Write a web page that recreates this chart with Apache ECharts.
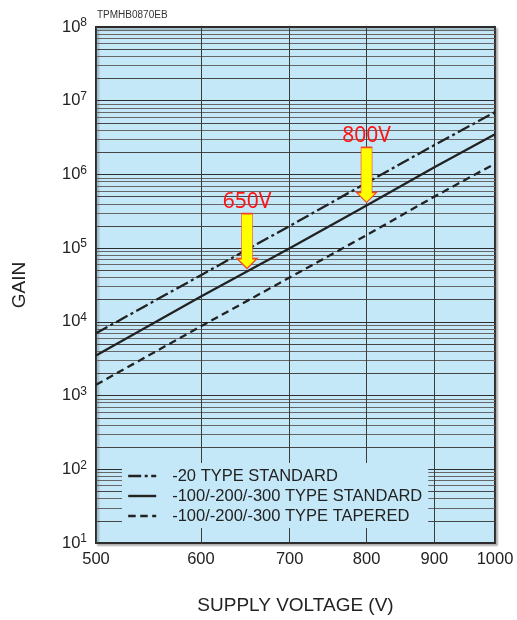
<!DOCTYPE html>
<html>
<head>
<meta charset="utf-8">
<script src="https://cdn.jsdelivr.net/npm/echarts@6/dist/echarts.min.js"></script>
<style>
  html, body { margin: 0; padding: 0; background: #ffffff; }
  #chart { width: 517px; height: 620px; }
</style>
</head>
<body>
<div id="chart"></div>
<script>
// Supply voltage (V) at which the gain curves are sampled
const voltages = [500, 600, 700, 800, 900, 1000];
// Gain curves
const gain20Standard = [7.0e3, 4.3e4, 2.0e5, 7.7e5, 2.5e6, 7.0e6];
const gainStandard   = [3.5e3, 2.2e4, 1.0e5, 3.8e5, 1.25e6, 3.5e6];
const gainTapered    = [1.4e3, 8.7e3, 4.0e4, 1.5e5, 5.0e5, 1.4e6];
const seriesNames = ['-20 TYPE STANDARD', '-100/-200/-300 TYPE STANDARD', '-100/-200/-300 TYPE TAPERED'];

// Operating-point callouts on the standard curve
const markerVoltages = [650, 800];
const markerGains = [4.8e4, 3.8e5];

// Axis ticks
const voltageTicks = [500, 600, 700, 800, 900, 1000];
const gainDecades = [1e1, 1e2, 1e3, 1e4, 1e5, 1e6, 1e7, 1e8];
const minorMultiples = [2, 3, 4, 5, 6, 7, 8, 9];

const FONT = "'Liberation Sans', Arial, sans-serif";
const INK = '#222';

// Horizontal grid: decade lines plus the 2..9 sub-divisions of every decade
const hLines = [];
gainDecades.forEach((d, i) => {
  hLines.push({ yAxis: d, lineStyle: { color: '#2e2e2e', width: 1 } });
  if (i < gainDecades.length - 1) {
    minorMultiples.forEach(m => {
      const strong = (m === 2 || m === 5);
      hLines.push({ yAxis: m * d, lineStyle: { color: strong ? '#454545' : '#666666', width: 1 } });
    });
  }
});
// Vertical grid with the voltage labels under the plot
const vLines = voltageTicks.map(v => ({
  xAxis: v,
  name: String(v),
  lineStyle: { color: '#3c3c3c', width: 1 }
}));
const gridLines = hLines.map(l => Object.assign({ label: { show: false } }, l)).concat(vLines);

const chart = echarts.init(document.getElementById('chart'), null, { renderer: 'canvas' });

chart.setOption({
  animation: false,
  color: [INK, INK, INK],
  textStyle: { fontFamily: FONT },
  title: {
    text: 'TPMHB0870EB',
    left: 97, top: 10, padding: 0,
    textStyle: { fontSize: 10, fontWeight: 'normal', color: '#333', fontFamily: FONT }
  },
  grid: {
    left: 96, right: 22, top: 27, bottom: 75,
    show: true,
    backgroundColor: '#c5e8f8',
    borderColor: '#2b2b2b',
    borderWidth: 2,
    shadowColor: 'rgba(0,0,0,0.25)',
    shadowBlur: 2,
    shadowOffsetX: 2,
    shadowOffsetY: 2
  },
  legend: {
    data: seriesNames,
    orient: 'vertical',
    left: 122, top: 463,
    padding: [3, 6, 2, 5],
    itemGap: 0,
    itemWidth: 28,
    itemHeight: 14,
    backgroundColor: '#c5e8f8',
    selectedMode: false,
    itemStyle: { opacity: 0 },
    lineStyle: { width: 2.4 },
    textStyle: { fontSize: 16.5, color: INK, lineHeight: 20, padding: [0, 0, 0, 11], fontFamily: FONT }
  },
  xAxis: {
    type: 'log', logBase: 10, min: 500, max: 1000,
    name: 'SUPPLY VOLTAGE (V)',
    nameLocation: 'middle', nameGap: 53,
    nameTextStyle: { fontSize: 19, color: INK, fontFamily: FONT },
    axisLine: { show: false }, axisTick: { show: false },
    axisLabel: { show: false }, splitLine: { show: false }
  },
  yAxis: {
    type: 'log', logBase: 10, min: 10, max: 1e8, splitNumber: 7,
    name: 'GAIN',
    nameLocation: 'middle', nameGap: 67,
    nameTextStyle: { fontSize: 19, color: INK, fontFamily: FONT },
    axisLine: { show: false }, axisTick: { show: false }, splitLine: { show: false },
    axisLabel: {
      margin: 9,
      formatter: v => '{b|10}{e|' + Math.round(Math.log10(v)) + '}',
      rich: {
        b: { fontSize: 16.5, color: INK, fontFamily: FONT },
        e: { fontSize: 12, color: INK, padding: [0, 0, 8, 0], fontFamily: FONT }
      }
    }
  },
  series: [
    {
      name: seriesNames[0], type: 'line', symbol: 'none', silent: true, z: 3,
      data: voltages.map((v, i) => [v, gain20Standard[i]]),
      itemStyle: { color: INK },
      lineStyle: { color: INK, width: 2.3, type: [13, 3.5, 3, 3.5] }
    },
    {
      name: seriesNames[1], type: 'line', symbol: 'none', silent: true, z: 3,
      data: voltages.map((v, i) => [v, gainStandard[i]]),
      itemStyle: { color: INK },
      lineStyle: { color: INK, width: 2.3, type: 'solid' },
      markPoint: {
        silent: true,
        symbol: 'path://M4.5,0L15.5,0L15.5,45L20,45L10,55L0,45L4.5,45Z',
        symbolSize: [20, 55],
        symbolOffset: [0, -30.5],
        itemStyle: { color: '#ffff00', borderColor: '#f0462a', borderWidth: 1 },
        label: {
          show: true, position: 'top', distance: 0,
          formatter: '{b}',
          color: '#ff1414', fontSize: 21, fontFamily: "'Noto Sans', sans-serif"
        },
        data: markerVoltages.map((v, i) => ({ name: v + 'V', coord: [v, markerGains[i]] }))
      }
    },
    {
      name: seriesNames[2], type: 'line', symbol: 'none', silent: true, z: 3,
      data: voltages.map((v, i) => [v, gainTapered[i]]),
      itemStyle: { color: INK },
      lineStyle: { color: INK, width: 2.3, type: [7.5, 4.5] },
      markLine: {
        silent: true,
        z: 1,
        symbol: 'none',
        precision: 6,
        label: {
          show: true, position: 'start', distance: 8,
          formatter: '{b}',
          fontSize: 16.5, color: INK, fontFamily: FONT
        },
        lineStyle: { type: 'solid' },
        emphasis: { disabled: true },
        data: gridLines
      }
    }
  ]
});
</script>
</body>
</html>
